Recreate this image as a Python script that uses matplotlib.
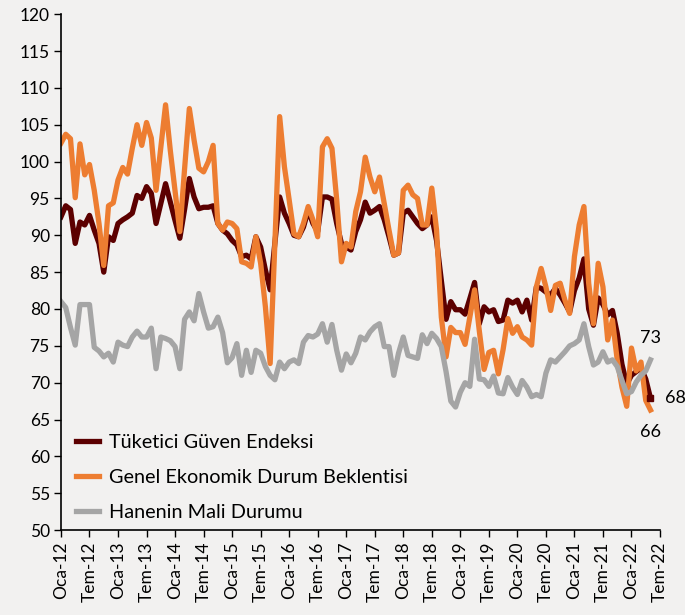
import numpy as np
import matplotlib.pyplot as plt

# aylik veriler, Ocak 2012 - Mayis 2022
tuketici_guven = [
    92.5, 94.0, 93.5, 88.9, 91.8, 91.4, 92.7, 90.7, 88.9, 85.0, 89.8, 89.3,
    91.6, 92.1, 92.5, 93.0, 95.4, 95.0, 96.6, 95.7, 91.6, 94.3, 97.0, 94.5,
    92.0, 89.6, 93.5, 97.7, 95.2, 93.6, 93.8, 93.8, 94.0, 91.6, 90.7, 90.2,
    89.3, 88.7, 87.1, 87.3, 86.8, 89.8, 88.4, 85.3, 82.6, 89.0, 95.2, 93.0,
    91.6, 90.0, 89.8, 91.1, 93.4, 91.6, 90.5, 95.2, 95.2, 94.9, 91.6, 88.9,
    88.4, 88.0, 90.5, 92.1, 94.5, 93.0, 93.4, 93.9, 92.1, 89.8, 87.3, 87.6,
    93.0, 93.4, 92.5, 91.6, 90.9, 91.4, 92.5, 89.3, 83.9, 78.6, 81.0, 79.9,
    79.9, 79.3, 81.4, 83.6, 78.0, 80.3, 79.6, 79.9, 78.3, 78.5, 81.2, 80.8,
    81.2, 79.6, 81.2, 78.5, 83.0, 82.8, 82.3, 81.9, 82.8, 81.9, 80.8, 79.6,
    82.5, 84.2, 86.8, 80.0, 77.8, 81.5, 80.6, 79.2, 79.8, 76.7, 72.5, 69.8,
    71.0, 71.5, 72.0, 70.5, 67.9,
]
genel_ekonomik = [
    102.5, 103.7, 103.1, 95.1, 102.4, 98.2, 99.6, 96.1, 91.6, 85.9, 94.0, 94.4,
    97.5, 99.2, 98.3, 101.8, 105.0, 102.2, 105.3, 103.2, 96.1, 101.9, 107.7, 101.5,
    96.0, 90.5, 99.0, 107.2, 102.9, 99.1, 98.6, 100.0, 102.2, 91.6, 90.7, 91.8,
    91.6, 90.9, 86.4, 86.2, 85.7, 89.8, 86.2, 80.3, 72.6, 89.0, 106.1, 99.3,
    94.8, 90.2, 89.8, 91.6, 93.9, 92.1, 89.8, 102.0, 103.1, 101.8, 94.8, 86.4,
    88.9, 88.4, 93.2, 95.9, 100.6, 97.9, 95.9, 97.9, 94.3, 90.7, 87.3, 87.6,
    96.1, 96.8, 95.5, 95.0, 91.4, 91.4, 96.4, 90.7, 78.9, 73.5, 77.5, 76.8,
    76.8, 75.2, 78.9, 82.6, 77.0, 71.8, 74.1, 74.4, 71.2, 74.5, 78.7, 76.7,
    77.6, 76.2, 75.8, 75.1, 83.0, 85.5, 83.0, 79.8, 83.2, 83.5, 81.2, 79.4,
    87.1, 91.4, 93.9, 83.5, 78.0, 86.2, 83.0, 75.8, 78.5, 73.1, 69.4, 66.8,
    74.7, 71.6, 72.8, 67.6, 66.3,
]
hane_mali = [
    81.0, 80.2, 77.5, 75.1, 80.6, 80.6, 80.6, 74.8, 74.3, 73.5, 74.0, 72.8,
    75.5, 75.1, 74.9, 76.2, 77.0, 76.2, 76.2, 77.4, 71.9, 76.2, 76.0, 75.7,
    74.9, 71.9, 78.6, 79.6, 78.4, 82.1, 79.6, 77.4, 77.6, 78.9, 76.8, 72.7,
    73.4, 75.3, 71.0, 74.4, 71.4, 74.4, 74.0, 72.2, 71.0, 70.4, 72.8, 71.9,
    72.8, 73.1, 72.6, 75.5, 76.4, 76.2, 76.6, 78.0, 75.5, 77.9, 74.4, 71.7,
    73.9, 72.7, 74.0, 76.2, 75.8, 76.9, 77.6, 78.0, 74.9, 74.9, 71.0, 74.0,
    76.2, 73.7, 73.5, 73.3, 76.5, 75.3, 76.7, 76.0, 74.9, 71.5, 67.5, 66.7,
    68.7, 70.0, 69.5, 75.9, 70.5, 70.4, 69.5, 70.9, 68.6, 68.5, 70.7, 69.4,
    68.4, 70.3, 69.4, 68.1, 68.4, 68.1, 71.3, 73.1, 72.8, 73.5, 74.2, 75.0,
    75.3, 75.8, 78.0, 74.9, 72.4, 72.8, 74.2, 72.8, 73.1, 72.2, 70.3, 68.5,
    68.8, 70.1, 71.0, 71.6, 73.1,
]

tick_labels = ['Oca-12', 'Tem-12', 'Oca-13', 'Tem-13', 'Oca-14', 'Tem-14',
               'Oca-15', 'Tem-15', 'Oca-16', 'Tem-16', 'Oca-17', 'Tem-17',
               'Oca-18', 'Tem-18', 'Oca-19', 'Tem-19', 'Oca-20', 'Tem-20',
               'Oca-21', 'Tem-21', 'Oca-22', 'Tem-22']

x = np.arange(len(tuketici_guven))
bg = '#F2F1F0'

plt.rcParams['font.family'] = ['Lato', 'DejaVu Sans']
fig = plt.figure(figsize=(6.85, 6.15), dpi=100, facecolor=bg)
ax = fig.add_axes([0.089, 0.138, 0.8745, 0.839], facecolor=bg)

ax.plot(x, tuketici_guven, color='#5C0000', lw=3.8, solid_joinstyle='round',
        label='Tüketici Güven Endeksi')
ax.plot(x, genel_ekonomik, color='#ED7D31', lw=3.8, solid_joinstyle='round',
        label='Genel Ekonomik Durum Beklentisi')
ax.plot(x, hane_mali, color='#A5A5A5', lw=3.8, solid_joinstyle='round',
        label='Hanenin Mali Durumu')
ax.plot(x[-1], tuketici_guven[-1], 's', color='#5C0000', ms=5)

# son degerler
ax.text(x[-1], hane_mali[-1] + 3, f'{hane_mali[-1]:.0f}', ha='center', va='center', fontsize=13)
ax.text(x[-1] + 3, tuketici_guven[-1], f'{tuketici_guven[-1]:.0f}', ha='left', va='center',
        fontsize=13, clip_on=False)
ax.text(x[-1], genel_ekonomik[-1] - 3, f'{genel_ekonomik[-1]:.0f}', ha='center', va='center', fontsize=13)

ax.set_xlim(0, 126)
ax.set_ylim(50, 120)
ax.set_yticks(np.arange(50, 121, 5))
ax.set_xticks(np.arange(0, 127, 6))
ax.set_xticklabels(tick_labels, rotation=90)
ax.tick_params(axis='both', labelsize=12.5, length=5, width=1, direction='out', pad=3)

for s in ['top', 'right']:
    ax.spines[s].set_visible(False)
for s in ['left', 'bottom']:
    ax.spines[s].set_linewidth(1.2)

ax.legend(loc='lower left', bbox_to_anchor=(-0.005, -0.016), frameon=False, fontsize=14.3,
          handlelength=1.15, labelspacing=0.9, handletextpad=0.5)

plt.savefig('out.png', dpi=100, facecolor=bg)
